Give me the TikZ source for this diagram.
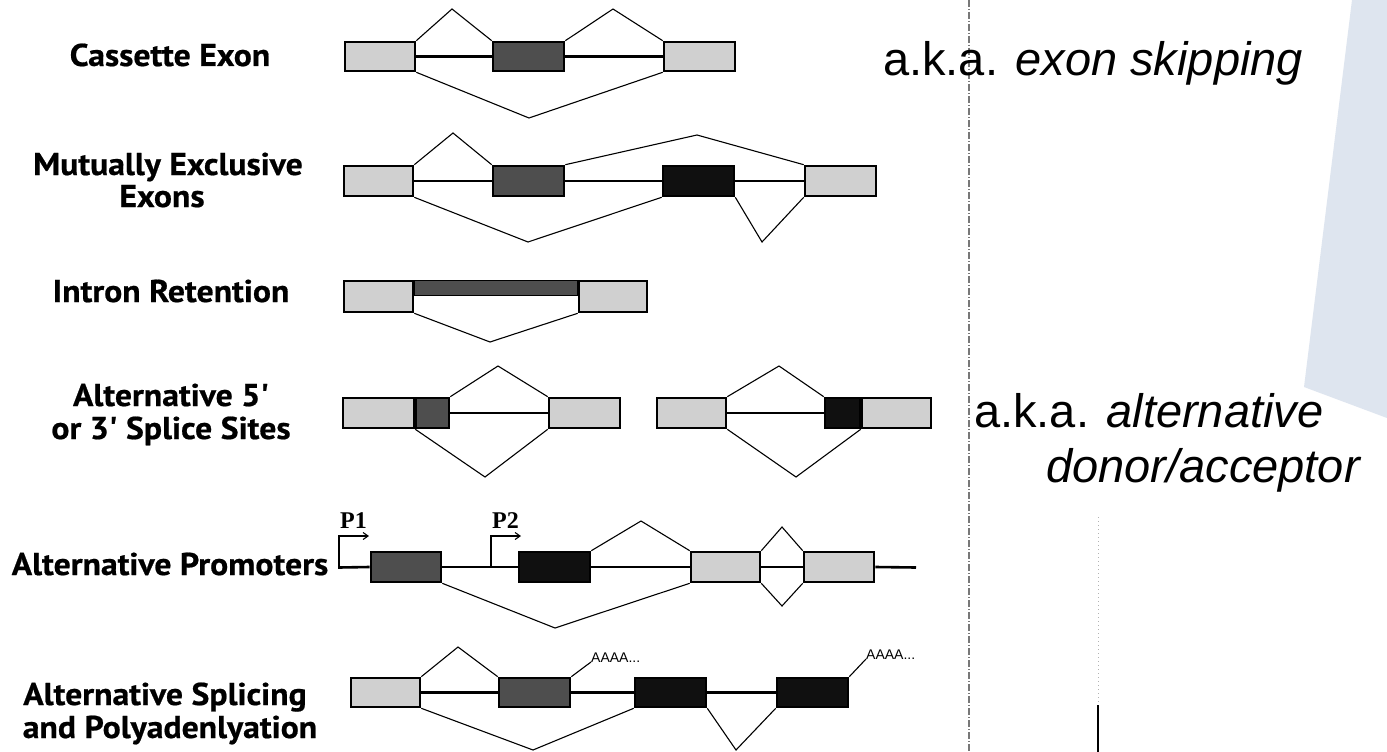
\documentclass[tikz,border=0pt]{standalone}
\usepackage{fontspec}
\usetikzlibrary{arrows.meta}
\newfontfamily\labfont{PT Sans}[FakeBold=0.6,FakeStretch=1.07]
\newfontfamily\akafont{Liberation Sans}
\newfontfamily\pfont{Liberation Serif}
\definecolor{lightg}{RGB}{208,208,208}
\definecolor{darkg}{RGB}{78,78,78}
\definecolor{blackg}{RGB}{16,16,16}
\definecolor{bluebg}{RGB}{222,229,239}
\definecolor{dashg}{RGB}{120,120,120}
\begin{document}
\begin{tikzpicture}[x=1pt,y=-1pt,
  exon/.style={draw=black, line width=2.6pt, inner sep=0pt, minimum height=29pt},
  lt/.style={exon, fill=lightg},
  dk/.style={exon, fill=darkg},
  bk/.style={exon, fill=blackg},
  intron/.style={line width=2.6pt},
  splice/.style={line width=1.1pt, line join=miter},
  lab/.style={font=\labfont\bfseries\fontsize{31.5}{32}\selectfont, inner sep=0pt, anchor=base},
  aka/.style={font=\akafont\fontsize{47}{47}\selectfont, inner sep=0pt, anchor=base west},
  ptxt/.style={font=\pfont\bfseries\fontsize{24}{24}\selectfont, inner sep=0pt, anchor=base west},
  polya/.style={font=\akafont\fontsize{14}{14}\selectfont, inner sep=0pt, anchor=base west},
  prom/.style={line width=1.1pt, -{Straight Barb[length=5pt,width=7pt]}},
]
\useasboundingbox (0,0) rectangle (1387,752);
\fill[white] (0,0) rectangle (1387,752);
% background shape
\fill[bluebg] (1352,0) -- (1387,0) -- (1387,418) -- (1304,387) -- cycle;
% vertical guide lines
\coordinate (d1top) at (969,0);
\coordinate (d1bot) at (969,752);
\draw[dashg, line width=1.2pt, dash pattern=on 7pt off 2pt on 1pt off 2pt] (d1top) -- (d1bot);
\coordinate (d2top) at (1098,517);
\coordinate (d2mid) at (1098,705);
\coordinate (d2bot) at (1098,752);
\draw[gray!60, line width=1pt, dash pattern=on 1pt off 3pt] (d2top) -- (d2mid);
\draw[black, line width=1.6pt] (d2mid) -- (d2bot);

% right-hand texts
\node[aka] (t1) at (883,75) {a.k.a. \textit{exon skipping}};
\node[aka] (t2) at (974,427) {a.k.a. \textit{alternative}};
\node[aka] (t3) at (1046,482) {\textit{donor/acceptor}};

% labels
\node[lab] (l1) at (170,66) {Cassette Exon};
\node[lab] (l2a) at (168,175) {Mutually Exclusive};
\node[lab] (l2b) at (162,207) {Exons};
\node[lab] (l3) at (171,302) {Intron Retention};
\node[lab] (l4a) at (171,406) {Alternative 5'};
\node[lab] (l4b) at (171,439) {or 3' Splice Sites};
\node[lab] (l5) at (170,575) {Alternative Promoters};
\node[lab] (l6a) at (165,705) {Alternative Splicing};
\node[lab] (l6b) at (170,738) {and Polyadenlyation};

% ---- Row 1: cassette exon
\node[lt, minimum width=70pt] (r1a) at (380,56.5) {};
\node[dk, minimum width=71pt] (r1b) at (528.5,56.5) {};
\node[lt, minimum width=71pt] (r1c) at (699.5,56.5) {};
\draw[intron] (r1a.east) -- (r1b.west);
\draw[intron] (r1b.east) -- (r1c.west);
\coordinate (r1p1) at (452,9);
\coordinate (r1p2) at (613,9);
\coordinate (r1v) at (529,118);
\draw[splice] (r1a.north east) -- (r1p1) -- (r1b.north west);
\draw[splice] (r1b.north east) -- (r1p2) -- (r1c.north west);
\draw[splice] (r1a.south east) -- (r1v) -- (r1c.south west);

% ---- Row 2: mutually exclusive exons
\node[lt, minimum width=69pt, minimum height=30pt] (r2a) at (378.5,181) {};
\node[dk, minimum width=71pt, minimum height=30pt] (r2b) at (528.5,181) {};
\node[bk, minimum width=71pt, minimum height=30pt] (r2c) at (698.5,181) {};
\node[lt, minimum width=71pt, minimum height=30pt] (r2d) at (840.5,181) {};
\draw[intron] (r2a.east) -- (r2b.west);
\draw[intron] (r2b.east) -- (r2c.west);
\draw[intron] (r2c.east) -- (r2d.west);
\coordinate (r2p1) at (453,133);
\coordinate (r2p2) at (697,135);
\coordinate (r2v1) at (528,242);
\coordinate (r2v2) at (762,242);
\draw[splice] (r2a.north east) -- (r2p1) -- (r2b.north west);
\draw[splice] (r2b.north east) -- (r2p2) -- (r2d.north west);
\draw[splice] (r2a.south east) -- (r2v1) -- (r2c.south west);
\draw[splice] (r2c.south east) -- (r2v2) -- (r2d.south west);

% ---- Row 3: intron retention
\node[dk, line width=1.8pt, minimum width=164pt, minimum height=15pt] (r3i) at (496,288) {};
\node[lt, minimum width=69pt, minimum height=31pt] (r3a) at (378.5,296.5) {};
\node[lt, minimum width=68pt, minimum height=31pt] (r3c) at (613,296.5) {};
\coordinate (r3v) at (490,342);
\draw[splice] (r3a.south east) -- (r3v) -- (r3c.south west);

% ---- Row 4: alternative 5'/3' splice sites
\node[lt, minimum width=71pt, minimum height=30pt] (r4a) at (378.5,413) {};
\node[dk, minimum width=33pt, minimum height=30pt] (r4x) at (432.5,413) {};
\node[lt, minimum width=71pt, minimum height=30pt] (r4c) at (584.5,413) {};
\draw[intron] (r4x.east) -- (r4c.west);
\coordinate (r4p1) at (498,366);
\coordinate (r4v1) at (485,477);
\draw[splice] (r4x.north east) -- (r4p1) -- (r4c.north west);
\draw[splice] (r4a.south east) -- (r4v1) -- (r4c.south west);

\node[lt, minimum width=69pt, minimum height=30pt] (r4d) at (691.5,413) {};
\node[bk, minimum width=35pt, minimum height=30pt] (r4y) at (842.5,413) {};
\node[lt, minimum width=69pt, minimum height=30pt] (r4e) at (896.5,413) {};
\draw[intron] (r4d.east) -- (r4y.west);
\coordinate (r4p2) at (779,366);
\coordinate (r4v2) at (796,477);
\draw[splice] (r4d.north east) -- (r4p2) -- (r4y.north west);
\draw[splice] (r4d.south east) -- (r4v2) -- (r4e.south west);

% ---- Row 5: alternative promoters
\coordinate (r5s) at (339,567.5);
\coordinate (r5e) at (916,567.5);
\node[dk, minimum width=70pt, minimum height=30pt] (r5a) at (406,567) {};
\node[bk, minimum width=71pt, minimum height=30pt] (r5b) at (554.5,567) {};
\node[lt, minimum width=69pt, minimum height=30pt] (r5c) at (725.5,567) {};
\node[lt, minimum width=70pt, minimum height=30pt] (r5d) at (839,567) {};
\draw[intron] (r5s) -- (r5a.west);
\draw[intron] (r5a.east) -- (r5b.west);
\draw[intron] (r5b.east) -- (r5c.west);
\draw[intron] (r5c.east) -- (r5d.west);
\draw[intron] (r5d.east) -- (r5e);
\coordinate (p1top) at (339,536);
\coordinate (p1tip) at (369,536);
\coordinate (p2base) at (491,567.5);
\coordinate (p2top) at (491,536);
\coordinate (p2tip) at (521,536);
\draw[prom] ([yshift=-1pt]r5s) -- (p1top) -- (p1tip);
\draw[prom] (p2base) -- (p2top) -- (p2tip);
\node[ptxt] (P1) at (340,528) {P1};
\node[ptxt] (P2) at (492,528) {P2};
\coordinate (r5p1) at (641,521);
\coordinate (r5p2) at (782,527);
\coordinate (r5v1) at (555,628);
\coordinate (r5v2) at (782,606);
\draw[splice] (r5b.north east) -- (r5p1) -- (r5c.north west);
\draw[splice] (r5c.north east) -- (r5p2) -- (r5d.north west);
\draw[splice] (r5a.south east) -- (r5v1) -- (r5c.south west);
\draw[splice] (r5c.south east) -- (r5v2) -- (r5d.south west);

% ---- Row 6: alternative splicing and polyadenylation
\node[lt, minimum width=69pt, minimum height=29pt] (r6a) at (385.5,692.5) {};
\node[dk, minimum width=71pt, minimum height=29pt] (r6b) at (534.5,692.5) {};
\node[bk, minimum width=71pt, minimum height=29pt] (r6c) at (670.5,692.5) {};
\node[bk, minimum width=71pt, minimum height=29pt] (r6d) at (812.5,692.5) {};
\draw[intron] (r6a.east) -- (r6b.west);
\draw[intron] (r6b.east) -- (r6c.west);
\draw[intron] (r6c.east) -- (r6d.west);
\coordinate (r6p1) at (458,647);
\coordinate (r6v1) at (533,750);
\coordinate (r6v2) at (736,750);
\draw[splice] (r6a.north east) -- (r6p1) -- (r6b.north west);
\draw[splice] (r6a.south east) -- (r6v1) -- (r6c.south west);
\draw[splice] (r6c.south east) -- (r6v2) -- (r6d.south west);
\node[polya] (pa1) at (591,662) {AAAA...};
\node[polya] (pa2) at (866,659) {AAAA...};
\draw[splice] (r6b.north east) -- (pa1.base west);
\draw[splice] (r6d.north east) -- (pa2.base west);
\end{tikzpicture}
\end{document}
